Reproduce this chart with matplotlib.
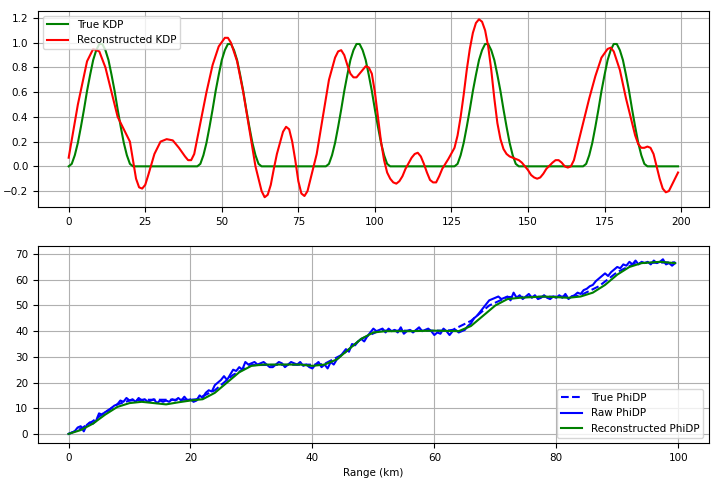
import numpy as np
import matplotlib
matplotlib.use("Agg")
import matplotlib.pyplot as plt

# --- top panel data ---
bump = [0, 0.02, 0.09, 0.19, 0.32, 0.46, 0.61, 0.74, 0.86, 0.94, 0.99, 0.99, 0.94, 0.86, 0.74, 0.61, 0.46, 0.32, 0.19, 0.09, 0.02, 0]
gap = [0] * 20
true_kdp = (bump + gap) * 4 + bump + [0] * 10
kdp_x = list(range(200))

rec_x = [0, 3, 6, 8, 10, 12, 14, 16, 18, 20, 21, 22, 23, 24, 25, 26, 28, 30, 32, 34, 36, 38, 39, 40, 41, 43, 45, 47, 49, 51, 52, 53, 55, 57, 59, 61, 63, 64, 65, 66, 67, 68, 70, 71, 72, 73, 74, 75, 76, 77, 78, 79, 81, 83, 85, 87, 88, 89, 90, 91, 92, 93, 94, 95, 96, 97, 98, 99, 100, 101, 102, 103, 104, 105, 106, 107, 108, 109, 110, 112, 113, 114, 115, 116, 117, 118, 119, 120, 121, 122, 124, 126, 127, 128, 129, 130, 131, 132, 133, 134, 135, 136, 137, 138, 139, 140, 141, 142, 143, 144, 145, 146, 147, 148, 149, 150, 151, 152, 153, 154, 155, 156, 158, 159, 160, 161, 162, 163, 164, 165, 166, 168, 170, 172, 174, 176, 177, 178, 180, 182, 184, 185, 186, 187, 188, 189, 190, 191, 192, 193, 194, 195, 196, 197, 198, 199]
rec_kdp = [0.07, 0.5, 0.85, 0.95, 0.93, 0.8, 0.6, 0.4, 0.3, 0.2, 0.05, -0.1, -0.17, -0.18, -0.15, -0.07, 0.1, 0.2, 0.22, 0.21, 0.15, 0.08, 0.05, 0.05, 0.1, 0.35, 0.6, 0.82, 0.97, 1.04, 1.04, 1.0, 0.85, 0.6, 0.3, 0.0, -0.2, -0.25, -0.23, -0.15, -0.02, 0.1, 0.28, 0.32, 0.3, 0.2, 0.05, -0.12, -0.22, -0.24, -0.2, -0.1, 0.1, 0.4, 0.7, 0.88, 0.93, 0.94, 0.9, 0.82, 0.75, 0.72, 0.72, 0.75, 0.78, 0.81, 0.8, 0.75, 0.6, 0.4, 0.2, 0.05, -0.05, -0.1, -0.13, -0.14, -0.12, -0.08, -0.02, 0.07, 0.1, 0.11, 0.08, 0.02, -0.05, -0.11, -0.13, -0.13, -0.08, -0.02, 0.06, 0.15, 0.25, 0.4, 0.58, 0.78, 0.95, 1.08, 1.16, 1.19, 1.17, 1.1, 0.97, 0.78, 0.55, 0.35, 0.22, 0.14, 0.1, 0.08, 0.07, 0.06, 0.05, 0.03, 0.0, -0.03, -0.07, -0.09, -0.1, -0.09, -0.06, -0.02, 0.03, 0.05, 0.05, 0.03, 0.0, -0.01, 0.0, 0.05, 0.15, 0.35, 0.55, 0.73, 0.88, 0.95, 0.96, 0.93, 0.78, 0.55, 0.35, 0.25, 0.18, 0.15, 0.15, 0.16, 0.15, 0.1, 0.0, -0.1, -0.18, -0.21, -0.2, -0.15, -0.1, -0.05]

# --- bottom panel data ---
raw_phidp = [0,0.5,1,2.5,3,1,3.5,4.5,4,5,8,7.5,8.5,9,10,11,11.5,13,12.5,14,
13,13.5,12.5,14,13,13.5,12.5,13,13.5,12,13,12.5,13,12.5,13.5,13,14,13,14.5,13,
13.5,12.5,13,15,14,16,17,16.5,19,20,21,22.5,21,23,25,24.5,26,25,28,27,
27.5,28,27,27.5,28,27,26,26,27,28,27.5,26,27,28,27.5,27,28,26.5,27,26,
25.5,27,28,26,27,25.5,28,27,29,30,31.5,33,32,35,34.5,36,37,36,38,39.5,
41,40,40.5,41,39.5,41,40,40.5,39.5,41.5,39,40,40.5,39.5,40.5,41.5,40,40.5,41,40,
38.5,39.5,39,41,40,38.5,40,40.5,39.5,40,40.5,42,43,45,46,47.5,49,50.5,52,52.5,
53,53.5,52.5,53,53.5,52,55,53,54,52.5,53.5,54.5,53,54,52.5,53,54,53,52.5,53.5,
53,54,53,54.5,52.5,53.5,54,55,54.5,56,56.5,57.5,58,59.5,60.5,61.5,62.5,61.5,63,64,
65,64.5,66,65.5,67,66,67.5,66,67,66.5,67,66,67.5,66.5,67,68,66,66.5,65.5,66.5]
raw_x = np.arange(len(raw_phidp)) * 0.5

true_x = [0, 2, 4, 6, 8, 10, 12, 20, 21, 24, 27, 30, 41, 42, 45, 48, 51, 62, 63, 66, 69, 72, 83, 84, 87, 90, 93, 99.5]
true_phidp = [0, 2, 5, 8.5, 11.5, 13, 13.3, 13.3, 13.5, 17, 23, 26.8, 27, 27.3, 31, 37, 40.2, 40.2, 40.5, 44, 50, 53.3, 53.5, 54, 57.5, 63, 66.5, 66.8]

rec_px = [0, 2, 4, 6, 8, 10, 12, 14, 16, 18, 20, 22, 24, 26, 28, 30, 32, 35, 38, 40, 42, 44, 46, 48, 50, 52, 56, 60, 64, 66, 68, 70, 72, 74, 78, 82, 84, 86, 88, 90, 92, 94, 97, 99.5]
rec_phidp = [0, 1.5, 4, 7.5, 10.5, 12, 12.5, 12, 11.5, 12.3, 13, 13.5, 16, 20, 24, 26.5, 27, 27, 27, 26.5, 27, 29, 33, 37, 39.5, 40, 40, 40.2, 40, 42, 46, 50, 52.5, 53, 53.5, 53, 53.5, 55, 58, 62, 65, 66.5, 67, 66.5]

fig, (ax1, ax2) = plt.subplots(2, 1, figsize=(7.18, 4.83), dpi=100)
fig.subplots_adjust(left=0.053, right=0.987, top=0.978, bottom=0.083, hspace=0.2)

ax1.plot(kdp_x, true_kdp, color='green', label='True KDP')
ax1.plot(rec_x, rec_kdp, color='red', label='Reconstructed KDP')
ax1.set_xlim(-10, 209)
ax1.set_ylim(-0.33, 1.26)
ax1.set_yticks(np.arange(-0.2, 1.21, 0.2))
ax1.set_xticks([0, 25, 50, 75, 100, 125, 150, 175, 200])
ax1.grid(True)
ax1.legend(loc='upper left', fontsize=7.5)

ax2.plot(true_x, true_phidp, 'b--', label='True PhiDP')
ax2.plot(raw_x, raw_phidp, color='blue', label='Raw PhiDP')
ax2.plot(rec_px, rec_phidp, color='green', label='Reconstructed PhiDP')
ax2.set_xlim(-5, 105)
ax2.set_ylim(-3.5, 73)
ax2.set_xlabel('Range (km)', fontsize=7.5)
ax2.grid(True)
ax2.legend(loc='lower right', fontsize=7.5)

for ax in (ax1, ax2):
    ax.tick_params(labelsize=7.5)

fig.savefig('out.png', dpi=100)
